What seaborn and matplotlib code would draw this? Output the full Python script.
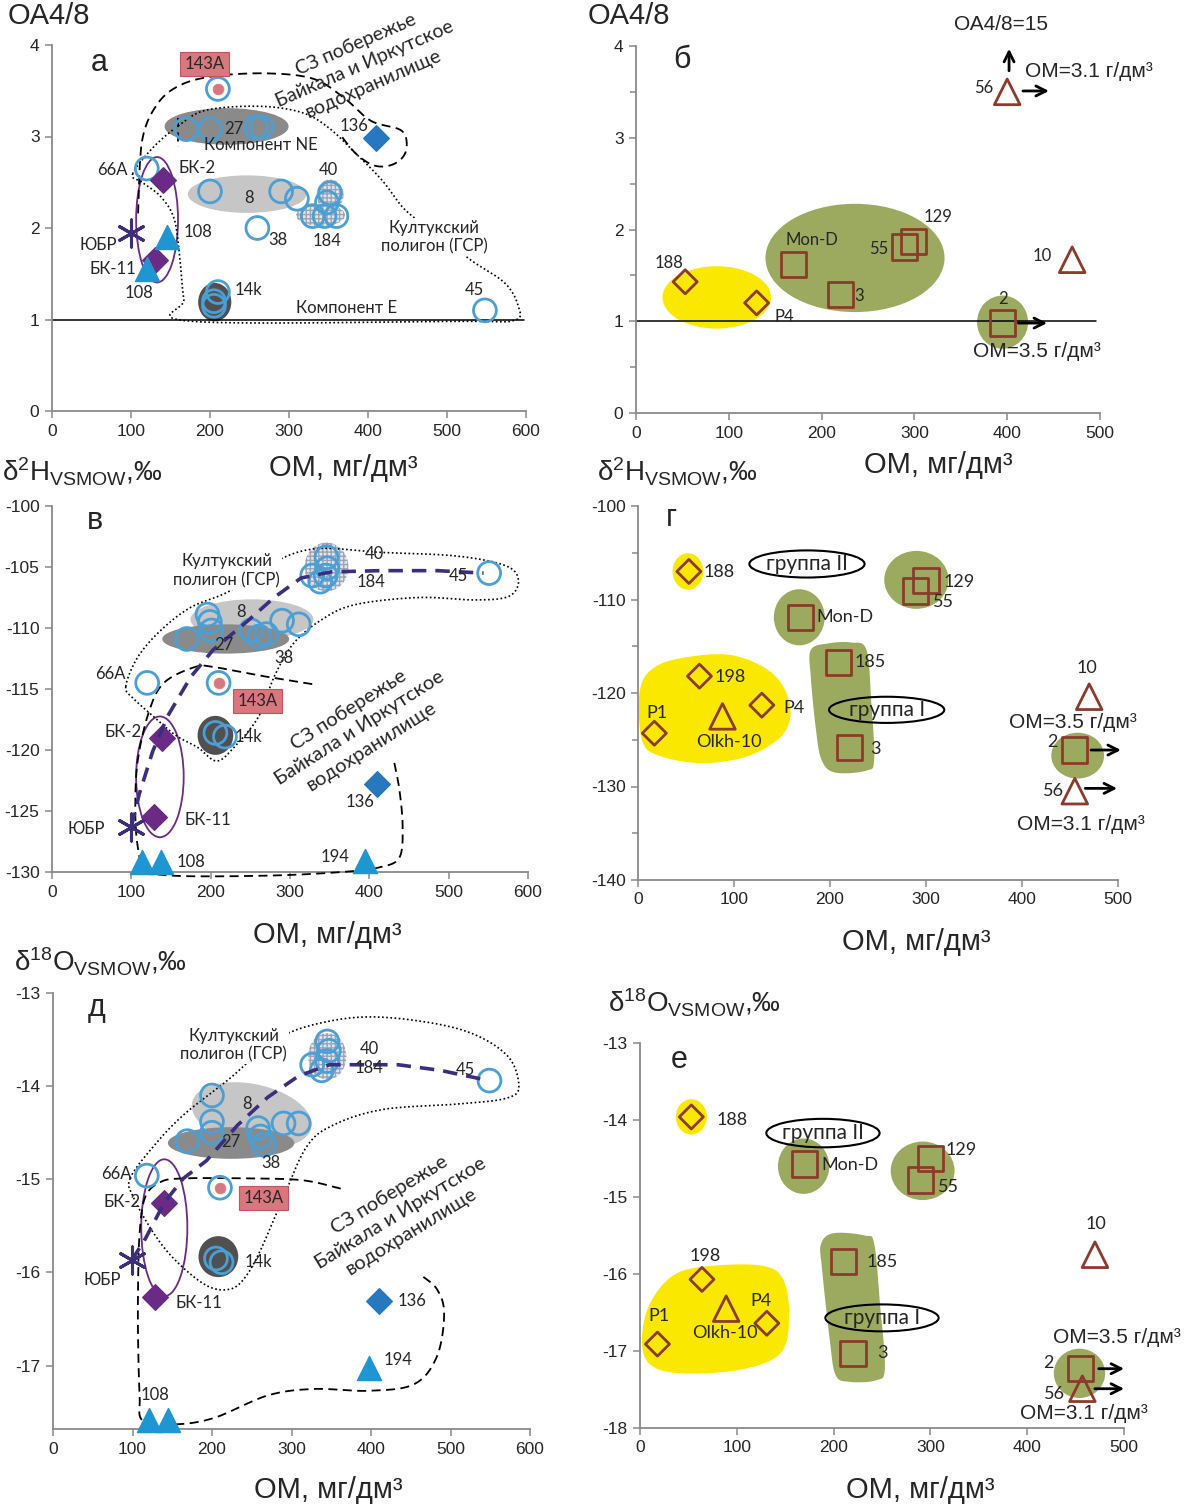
import numpy as np
import matplotlib
import matplotlib.pyplot as plt
import seaborn as sns
from matplotlib.patches import Ellipse, Polygon

sns.set_style('white')
plt.rcParams['font.family'] = ['Liberation Sans', 'DejaVu Sans']
plt.rcParams['mathtext.fontset'] = 'custom'
plt.rcParams['mathtext.rm'] = 'Liberation Sans'
plt.rcParams['mathtext.it'] = 'Liberation Sans:italic'
plt.rcParams['axes.unicode_minus'] = False

# ---------------- data ----------------
# panel а: OA4/8 vs OM
a_circ_x = [210, 170, 200, 258, 265, 120, 200, 290, 310, 352, 348, 330, 345, 360, 260, 205, 210, 205, 548]
a_circ_y = [3.52, 3.08, 3.08, 3.1, 3.1, 2.65, 2.4, 2.4, 2.32, 2.38, 2.28, 2.13, 2.13, 2.13, 2.0, 1.2, 1.3, 1.15, 1.1]
a_bk_x, a_bk_y = [140, 130], [2.52, 1.65]
a_ubr_x, a_ubr_y = [100], [1.95]
a_tri_x, a_tri_y = [145, 120], [1.9, 1.55]
a_136_x, a_136_y = [410], [2.98]
a_143_x, a_143_y = [210], [3.52]

# panel б
b_dia_x, b_dia_y = [53, 130], [1.43, 1.2]
b_sq_x = [170, 220, 289, 299, 395]
b_sq_y = [1.62, 1.29, 1.81, 1.87, 0.98]
b_tri_x, b_tri_y = [400, 470], [3.5, 1.67]

# panel в: d2H vs OM
v_circ_x = [346, 347, 328, 338, 345, 551, 196, 199, 201, 290, 311, 170, 251, 261, 270, 120, 210, 206, 218]
v_circ_y = [-104.2, -105.1, -105.7, -106.2, -105.7, -105.5, -108.9, -109.5, -110.2, -109.4, -109.7,
            -110.9, -110.2, -110.7, -110.5, -114.5, -114.5, -118.6, -118.9]
v_bk_x, v_bk_y = [139, 129], [-119.0, -125.5]
v_ubr_x, v_ubr_y = [99], [-126.3]
v_tri_x, v_tri_y = [113, 137, 395], [-129.2, -129.2, -129.1]
v_136_x, v_136_y = [410], [-122.8]
v_143_x, v_143_y = [210], [-114.5]
v_trend_x = [100, 110, 127, 146, 175, 203, 247, 280, 314, 352, 414, 486, 544]
v_trend_y = [-126.3, -123.6, -120.1, -117.2, -114.0, -111.8, -109.4, -107.5, -105.9, -105.4, -105.3, -105.3, -105.5]

# panel г
g_dia_x, g_dia_y = [53, 64, 129, 17], [-107.0, -118.2, -121.3, -124.3]
g_olkh_x, g_olkh_y = [88], [-122.5]
g_sq_x = [300, 289, 169, 209, 220, 455]
g_sq_y = [-108.0, -109.1, -111.9, -116.7, -125.8, -126.1]
g_tri_x, g_tri_y = [470, 455], [-120.4, -130.5]

# panel д: d18O vs OM
d_circ_x = [345, 347, 345, 326, 338, 549, 200, 200, 200, 290, 309, 169, 258, 261, 265, 118, 210, 205, 212]
d_circ_y = [-13.52, -13.62, -13.73, -13.77, -13.83, -13.94, -14.1, -14.38, -14.5, -14.4, -14.4,
            -14.59, -14.45, -14.54, -14.63, -14.96, -15.09, -15.85, -15.89]
d_bk_x, d_bk_y = [140, 128], [-15.25, -16.26]
d_ubr_x, d_ubr_y = [99], [-15.87]
d_tri_x, d_tri_y = [121, 145, 398], [-17.58, -17.58, -17.02]
d_136_x, d_136_y = [410], [-16.31]
d_143_x, d_143_y = [210], [-15.09]
d_trend_x = [99, 116, 140, 164, 193, 232, 270, 309, 348, 376, 434, 487, 548]
d_trend_y = [-15.87, -15.64, -15.25, -14.99, -14.8, -14.42, -14.12, -13.89, -13.77, -13.77, -13.77, -13.83, -13.94]

# panel е
e_dia_x, e_dia_y = [53, 64, 131, 18], [-13.96, -16.07, -16.64, -16.91]
e_olkh_x, e_olkh_y = [89], [-16.45]
e_sq_x = [300, 290, 170, 210, 220, 455]
e_sq_y = [-14.5, -14.78, -14.57, -15.84, -17.03, -17.23]
e_tri_x, e_tri_y = [470, 457], [-15.75, -17.49]

# ---------------- style ----------------
BLUE = '#4b9fd5'
PURPLE = '#6a2a85'
STAR = '#3d2e7c'
TRI = '#1f95d2'
DIA = '#2878bf'
BROWN = '#8c3a2b'
YELLOW = '#fbe800'
GREEN = '#9caa5f'
LGRAY = '#c6c6c6'
DGRAY = '#8a8a8a'
VDGRAY = '#505050'
PINK = '#d9777e'
TREND = '#3b2f7d'
NUMF = ['Lato', 'DejaVu Sans']

S_CIRC, S_DIA, S_TRI, S_STAR = 270, 170, 300, 380
S_ODIA, S_SQ, S_OTRI = 150, 330, 340

W, H = 1184, 1506
fig = plt.figure(figsize=(W / 100, H / 100), dpi=100)


def add_ax(l, t, r, b, xlim, ylim, xticks, yticks, minor=None):
    ax = fig.add_axes([l / W, 1 - b / H, (r - l) / W, (b - t) / H])
    ax.set_xlim(*xlim)
    ax.set_ylim(*ylim)
    ax.set_xticks(xticks)
    ax.set_yticks(yticks)
    if minor is not None:
        ax.set_yticks(minor, minor=True)
    for s in ['top', 'right']:
        ax.spines[s].set_visible(False)
    for s in ['left', 'bottom']:
        ax.spines[s].set_color('#8a8a8a')
        ax.spines[s].set_linewidth(1.3)
    ax.tick_params(axis='both', which='both', direction='out', length=5, width=1.1,
                   color='#8a8a8a', labelsize=12.5, pad=4, left=True, bottom=True)
    ax.tick_params(axis='y', which='minor', length=4)
    ax.set_facecolor('none')
    return ax


def pts(ax, xs, ys, marker, s, fc, ec, lw=1.6, z=5):
    sns.scatterplot(x=xs, y=ys, ax=ax, marker=marker, s=s, facecolor=fc, edgecolor=ec,
                    linewidth=lw, zorder=z, clip_on=False, legend=False)


def smooth(p, closed=True, n=14):
    p = np.asarray(p, float)
    if closed:
        p = np.vstack([p[-1], p, p[0], p[1]])
    else:
        p = np.vstack([p[0], p, p[-1]])
    out = []
    for i in range(1, len(p) - 2):
        p0, p1, p2, p3 = p[i - 1], p[i], p[i + 1], p[i + 2]
        t = np.linspace(0, 1, n, endpoint=False)[:, None]
        out.append(0.5 * ((2 * p1) + (-p0 + p2) * t + (2 * p0 - 5 * p1 + 4 * p2 - p3) * t ** 2
                          + (-p0 + 3 * p1 - 3 * p2 + p3) * t ** 3))
    out = np.vstack(out + [p[-2][None, :]])
    return out[:, 0], out[:, 1]


def outline(ax, p, closed, ls, color='black', lw=1.3, z=3):
    xs, ys = smooth(p, closed)
    ax.plot(xs, ys, ls=ls, color=color, lw=lw, zorder=z, clip_on=False)


def blob(ax, p, color, z=1):
    xs, ys = smooth(p, True)
    ax.fill(xs, ys, color=color, lw=0, zorder=z)


def ell(ax, cx, cy, w, h, fc='none', ec='none', lw=1.3, z=1, hatch=None):
    ax.add_patch(Ellipse((cx, cy), w, h, facecolor=fc, edgecolor=ec, lw=lw, zorder=z, hatch=hatch))


def rell(ax, cx, cy, wpx, hpx, ang, fc, z=1):
    t = np.linspace(0, 2 * np.pi, 80)
    a = np.deg2rad(ang)
    px = wpx / 2 * np.cos(t)
    py = hpx / 2 * np.sin(t)
    rx = px * np.cos(a) - py * np.sin(a)
    ry = px * np.sin(a) + py * np.cos(a)
    c = ax.transData.transform((cx, cy))
    d = ax.transData.inverted().transform(np.column_stack([c[0] + rx, c[1] + ry]))
    ax.add_patch(Polygon(d, closed=True, facecolor=fc, edgecolor='none', zorder=z))


def lab(ax, x, y, s, size=12, **kw):
    kw.setdefault('ha', 'center')
    kw.setdefault('va', 'center')
    ax.text(x, y, s, fontsize=size, family=NUMF, zorder=7, **kw)


def letter(ax, x, y, s):
    ax.text(x, y, s, fontsize=22, ha='center', va='center', zorder=7)


def pinkbox(ax, x, y):
    ax.text(x, y, '143А', fontsize=12, family=NUMF, ha='center', va='center', zorder=7,
            bbox=dict(boxstyle='square,pad=0.25', fc=PINK, ec='#c05560', lw=0.8))


def sz_text(ax, x, y, rot, size=14.5):
    ax.text(x, y, 'СЗ побережье\nБайкала и Иркутское\nводохранилище', fontsize=size, family=NUMF,
            ha='center', va='center', rotation=rot, rotation_mode='anchor', linespacing=1.3, zorder=7)


def kult(ax, x, y):
    ax.text(x, y, 'Култукский\nполигон (ГСР)', fontsize=12, family=NUMF, ha='center', va='center',
            zorder=6, linespacing=1.2, bbox=dict(boxstyle='square,pad=0.1', fc='white', ec='none'))


def arrow(ax, x0, y0, x1, y1):
    ax.annotate('', xy=(x1, y1), xytext=(x0, y0), zorder=8, annotation_clip=False,
                arrowprops=dict(arrowstyle='->', color='black', lw=2, mutation_scale=18))


def ftext(x, y, s, size=20, ha='center'):
    fig.text(x / W, 1 - y / H, s, fontsize=size, ha=ha, va='center')


OM = 'ОМ, мг/дм³'
D2H = 'δ$^{2}$H$_{\\mathrm{VSMOW}}$,‰'
D18O = 'δ$^{18}$O$_{\\mathrm{VSMOW}}$,‰'

# ================= panel а =================
ax = add_ax(52, 45, 526, 411, (0, 600), (0, 4), range(0, 601, 100), range(0, 5))
ell(ax, 221, 3.11, 157, 0.40, fc=DGRAY)
ell(ax, 247, 2.37, 150, 0.41, fc=LGRAY)
ell(ax, 206, 1.19, 42, 0.42, fc=VDGRAY)
ell(ax, 352, 2.36, 34, 0.34, fc='#e2e6ec', ec='#9aa4b4', lw=0, hatch='++++')
ell(ax, 340, 2.14, 62, 0.24, fc='#e2e6ec', ec='#9aa4b4', lw=0, hatch='++++')
ell(ax, 133, 2.09, 53, 1.37, ec=PURPLE, lw=1.3, z=3)
outline(ax, [(109, 2.16), (114, 2.95), (133, 3.35), (162, 3.56), (206, 3.66), (273, 3.69), (331, 3.63),
             (370, 3.42), (404, 3.17), (443, 3.06), (448, 2.84), (433, 2.70), (409, 2.68), (385, 2.81),
             (365, 3.02)], False, (0, (5, 3)))
outline(ax, [(160, 3.2), (160, 2.88)], False, (0, (5, 3)))
outline(ax, [(102, 2.59), (128, 2.88), (162, 3.13), (196, 3.29), (264, 3.33), (317, 3.26), (351, 3.09),
             (385, 2.81), (418, 2.52), (448, 2.19), (490, 1.92), (530, 1.65), (573, 1.40), (590, 1.15),
             (585, 0.99), (515, 0.98), (177, 0.98), (167, 1.22), (162, 1.65), (155, 2.09), (138, 2.34),
             (114, 2.5)], True, (0, (1, 1.5)), lw=1.2)
ax.plot([0, 597], [1, 1], color='black', lw=1.1, zorder=2, clip_on=False)
pts(ax, a_circ_x, a_circ_y, 'o', S_CIRC, 'none', BLUE, lw=2)
pts(ax, a_143_x, a_143_y, 'o', 60, PINK, PINK, lw=0.5, z=6)
pts(ax, a_bk_x, a_bk_y, 'D', S_DIA, PURPLE, PURPLE, lw=1)
pts(ax, a_ubr_x, a_ubr_y, (6, 2, 0), S_STAR, STAR, STAR, lw=2.2)
pts(ax, a_tri_x, a_tri_y, '^', S_TRI, TRI, TRI, lw=1)
pts(ax, a_136_x, a_136_y, 'D', S_DIA, DIA, DIA, lw=1)
letter(ax, 60, 3.8, 'а')
pinkbox(ax, 193, 3.79)
sz_text(ax, 396, 3.79, 23.5, size=14)
lab(ax, 230, 3.08, '27')
lab(ax, 264, 2.91, 'Компонент NE')
lab(ax, 382, 3.11, '136')
lab(ax, 77, 2.63, '66А')
lab(ax, 183, 2.66, 'БК-2')
lab(ax, 350, 2.63, '40')
lab(ax, 250, 2.33, '8')
lab(ax, 185, 1.96, '108')
lab(ax, 58, 1.81, 'ЮБР')
lab(ax, 286, 1.87, '38')
lab(ax, 348, 1.86, '184')
kult(ax, 484, 1.9)
lab(ax, 77, 1.55, 'БК-11')
lab(ax, 110, 1.29, '108')
lab(ax, 248, 1.32, '14k')
lab(ax, 535, 1.32, '45')
lab(ax, 373, 1.13, 'Компонент E')

# ================= panel б =================
ax = add_ax(636, 46, 1100, 413, (0, 500), (0, 4), range(0, 501, 100), range(0, 5),
            minor=np.arange(0.5, 4, 1.0))
ell(ax, 87, 1.26, 117, 0.68, fc=YELLOW)
ell(ax, 236, 1.69, 193, 1.18, fc=GREEN)
ell(ax, 395, 0.99, 55, 0.58, fc=GREEN)
ax.plot([0, 496], [1, 1], color='black', lw=1.1, zorder=2, clip_on=False)
pts(ax, b_dia_x, b_dia_y, 'D', S_ODIA, 'none', BROWN, lw=2)
pts(ax, b_sq_x, b_sq_y, 's', S_SQ, 'none', BROWN, lw=2)
pts(ax, b_tri_x, b_tri_y, '^', S_OTRI, 'none', BROWN, lw=2)
arrow(ax, 402, 3.7, 402, 4.0)
arrow(ax, 414, 3.51, 448, 3.51)
arrow(ax, 409, 0.98, 446, 0.98)
letter(ax, 49, 3.85, 'б')
ax.text(393, 4.23, 'ОА4/8=15', fontsize=15, ha='center', va='center')
ax.text(488, 3.72, 'ОМ=3.1 г/дм³', fontsize=15, ha='center', va='center')
ax.text(432, 0.67, 'ОМ=3.5 г/дм³', fontsize=15, ha='center', va='center')
lab(ax, 36, 1.63, '188')
lab(ax, 160, 1.05, 'P4')
lab(ax, 189, 1.89, 'Mon-D')
lab(ax, 240, 1.27, '3')
lab(ax, 262, 1.79, '55')
lab(ax, 325, 2.14, '129')
lab(ax, 395, 1.24, '2')
lab(ax, 375, 3.54, '56')
lab(ax, 438, 1.71, '10')

# ================= panel в =================
ax = add_ax(52, 506, 528, 872, (0, 600), (-130, -100), range(0, 601, 100), range(-130, -99, 5))
ell(ax, 252, -109.3, 155, 3.3, fc=LGRAY)
ell(ax, 219, -110.9, 160, 2.4, fc=DGRAY)
ell(ax, 206, -118.8, 45, 3.2, fc=VDGRAY)
ell(ax, 346, -105.0, 55, 4.0, fc='#e2e6ec', ec='#9aa4b4', lw=0, hatch='++++')
ell(ax, 136, -122.2, 60, 9.9, ec=PURPLE, lw=1.3, z=3)
outline(ax, [(328, -114.6), (271, -114.0), (204, -113.2), (180, -113.2), (141, -114.5), (122, -116.9),
             (108, -120.9), (105, -124.9), (108, -127.9), (117, -129.7), (151, -130.3), (271, -130.3),
             (366, -130.0), (414, -129.6), (438, -128.8), (442, -126.3), (438, -123.3), (431, -120.9)],
        False, (0, (5, 3)))
outline(ax, [(93, -114.8), (108, -112.4), (137, -110.2), (175, -108.3), (223, -107.0), (280, -104.6),
             (333, -103.5), (414, -103.8), (510, -104.1), (572, -104.9), (588, -106.1), (576, -107.4),
             (534, -107.7), (462, -107.5), (381, -108.1), (338, -109.4), (304, -111.3), (280, -114.0),
             (261, -117.2), (232, -119.6), (208, -120.9), (184, -119.8), (156, -118.8), (127, -117.2),
             (103, -115.8)], True, (0, (1, 1.5)), lw=1.2)
ax.plot(v_trend_x, v_trend_y, color=TREND, lw=2.6, ls=(0, (4, 2.5)), zorder=6)
pts(ax, v_circ_x, v_circ_y, 'o', S_CIRC, 'none', BLUE, lw=2)
pts(ax, v_143_x, v_143_y, 'o', 60, PINK, PINK, lw=0.5, z=6)
pts(ax, v_bk_x, v_bk_y, 'D', S_DIA, PURPLE, PURPLE, lw=1)
pts(ax, v_ubr_x, v_ubr_y, (6, 2, 0), S_STAR, STAR, STAR, lw=2.2)
pts(ax, v_tri_x, v_tri_y, '^', S_TRI, TRI, TRI, lw=1)
pts(ax, v_136_x, v_136_y, 'D', S_DIA, DIA, DIA, lw=1)
letter(ax, 54, -101.2, 'в')
kult(ax, 220, -105.3)
sz_text(ax, 388, -118.2, 32.5)
pinkbox(ax, 259, -116.0)
lab(ax, 407, -103.9, '40')
lab(ax, 402, -106.2, '184')
lab(ax, 512, -105.7, '45')
lab(ax, 238, -108.7, '8')
lab(ax, 216, -111.4, '27')
lab(ax, 292, -112.5, '38')
lab(ax, 74, -113.8, '66А')
lab(ax, 90, -118.5, 'БК-2')
lab(ax, 247, -118.9, '14k')
lab(ax, 43, -126.5, 'ЮБР')
lab(ax, 196, -125.7, 'БК-11')
lab(ax, 388, -124.3, '136')
lab(ax, 175, -129.2, '108')
lab(ax, 357, -128.8, '194')

# ================= panel г =================
ax = add_ax(638, 506, 1118, 880, (0, 500), (-140, -100), range(0, 501, 100), range(-140, -99, 10),
            minor=np.arange(-135, -100, 10))
ell(ax, 52, -107.0, 32, 3.9, fc=YELLOW)
blob(ax, [(2, -119.7), (18, -117.2), (55, -116.1), (100, -116.0), (140, -117.9), (158, -121.1),
          (152, -124.3), (116, -126.7), (67, -127.5), (22, -126.7), (4, -125.0)], YELLOW)
ell(ax, 290, -107.9, 67, 6.2, fc=GREEN)
ell(ax, 168, -111.9, 53, 6.0, fc=GREEN)
blob(ax, [(180, -115.4), (198, -114.7), (222, -114.6), (238, -115.4), (243, -121), (246, -127.1),
          (238, -128.3), (205, -128.5), (191, -127.1), (185, -123.6), (180, -118.3)], GREEN)
ell(ax, 458, -126.7, 55, 4.9, fc=GREEN)
ell(ax, 176, -106.2, 120, 2.9, ec='black', lw=1.5, z=4)
ell(ax, 259, -121.8, 120, 2.8, ec='black', lw=1.5, z=4)
pts(ax, g_dia_x, g_dia_y, 'D', S_ODIA, 'none', BROWN, lw=2)
pts(ax, g_olkh_x, g_olkh_y, '^', S_OTRI, 'none', BROWN, lw=2)
pts(ax, g_sq_x, g_sq_y, 's', S_SQ, 'none', BROWN, lw=2)
pts(ax, g_tri_x, g_tri_y, '^', S_OTRI, 'none', BROWN, lw=2)
arrow(ax, 469, -126.1, 506, -126.1)
arrow(ax, 463, -130.2, 502, -130.2)
letter(ax, 35, -101.3, 'г')
lab(ax, 176, -106.2, 'группа II', 15)
lab(ax, 259, -121.8, 'группа I', 15)
ax.text(453, -123.2, 'ОМ=3.5 г/дм³', fontsize=15, ha='center', va='center', zorder=7)
ax.text(461, -134.1, 'ОМ=3.1 г/дм³', fontsize=15, ha='center', va='center', zorder=7)
lab(ax, 84, -107.1, '188', 13)
lab(ax, 335, -108.1, '129', 13)
lab(ax, 318, -110.3, '55', 13)
lab(ax, 216, -111.9, 'Mon-D', 13)
lab(ax, 242, -116.7, '185', 13)
lab(ax, 96, -118.3, '198', 13)
lab(ax, 20, -122.1, 'P1', 13)
lab(ax, 162, -121.6, 'P4', 13)
lab(ax, 95, -125.2, 'Olkh-10', 13)
lab(ax, 247, -126.0, '3', 13)
lab(ax, 468, -117.3, '10', 13)
lab(ax, 432, -125.2, '2', 13)
lab(ax, 433, -130.5, '56', 13)

# ================= panel д =================
ax = add_ax(53, 993, 530, 1429, (0, 600), (-17.68, -13), range(0, 601, 100), range(-17, -12))
rell(ax, 250, -14.31, 122, 62, -12, LGRAY)
ell(ax, 224, -14.61, 159, 0.34, fc=DGRAY)
ell(ax, 208, -15.83, 50, 0.44, fc=VDGRAY)
ell(ax, 345, -13.68, 48, 0.5, fc='#e2e6ec', ec='#9aa4b4', lw=0, hatch='++++')
ell(ax, 140, -15.52, 58, 1.47, ec=PURPLE, lw=1.3, z=3)
outline(ax, [(362, -15.1), (314, -15.01), (246, -14.99), (164, -14.99), (135, -15.03), (116, -15.19),
             (109, -15.57), (107, -16.14), (107, -16.71), (109, -17.32), (113, -17.59), (154, -17.63),
             (203, -17.56), (270, -17.32), (328, -17.25), (396, -17.27), (454, -17.2), (483, -16.9),
             (492, -16.44), (483, -16.18), (463, -16.03)], False, (0, (5, 3)))
outline(ax, [(97, -14.99), (126, -14.65), (164, -14.31), (222, -13.92), (280, -13.5), (343, -13.31),
             (415, -13.26), (512, -13.39), (570, -13.66), (586, -14.0), (570, -14.13), (512, -14.19),
             (415, -14.25), (352, -14.42), (319, -14.65), (290, -15.19), (261, -15.76), (241, -16.06),
             (222, -16.18), (193, -16.14), (154, -15.87), (126, -15.57), (101, -15.19)], True,
        (0, (1, 1.5)), lw=1.2)
ax.plot(d_trend_x, d_trend_y, color=TREND, lw=2.6, ls=(0, (4, 2.5)), zorder=6)
pts(ax, d_circ_x, d_circ_y, 'o', S_CIRC, 'none', BLUE, lw=2)
pts(ax, d_143_x, d_143_y, 'o', 60, PINK, PINK, lw=0.5, z=6)
pts(ax, d_bk_x, d_bk_y, 'D', S_DIA, PURPLE, PURPLE, lw=1)
pts(ax, d_ubr_x, d_ubr_y, (6, 2, 0), S_STAR, STAR, STAR, lw=2.2)
pts(ax, d_tri_x, d_tri_y, '^', S_TRI, TRI, TRI, lw=1)
pts(ax, d_136_x, d_136_y, 'D', S_DIA, DIA, DIA, lw=1)
letter(ax, 55, -13.16, 'д')
kult(ax, 227, -13.56)
sz_text(ax, 437, -15.36, 31.5)
pinkbox(ax, 265, -15.2)
lab(ax, 398, -13.6, '40')
lab(ax, 398, -13.8, '184')
lab(ax, 519, -13.83, '45')
lab(ax, 244, -14.19, '8')
lab(ax, 224, -14.6, '27')
lab(ax, 274, -14.82, '38')
lab(ax, 80, -14.94, '66А')
lab(ax, 87, -15.24, 'БК-2')
lab(ax, 258, -15.89, '14k')
lab(ax, 62, -16.08, 'ЮБР')
lab(ax, 183, -16.33, 'БК-11')
lab(ax, 451, -16.31, '136')
lab(ax, 434, -16.94, '194')
lab(ax, 128, -17.31, '108')

# ================= panel е =================
ax = add_ax(640, 1043, 1124, 1428, (0, 500), (-18, -13), range(0, 501, 100), range(-18, -12))
ell(ax, 53, -13.96, 32, 0.46, fc=YELLOW)
blob(ax, [(2, -16.85), (10, -16.39), (34, -16.02), (69, -15.9), (125, -15.89), (148, -16.07),
          (154, -16.58), (145, -17.03), (105, -17.24), (42, -17.29), (10, -17.17)], YELLOW)
ell(ax, 292, -14.66, 66, 0.76, fc=GREEN)
ell(ax, 169, -14.6, 53, 0.72, fc=GREEN)
blob(ax, [(187, -15.61), (200, -15.47), (232, -15.5), (242, -15.61), (248, -16.4), (253, -17.22),
          (244, -17.38), (216, -17.4), (202, -17.31), (196, -16.85), (188, -15.93)], GREEN)
ell(ax, 454, -17.29, 53, 0.64, fc=GREEN)
ell(ax, 189, -14.17, 117, 0.37, ec='black', lw=1.5, z=4)
ell(ax, 250, -16.57, 117, 0.35, ec='black', lw=1.5, z=4)
pts(ax, e_dia_x, e_dia_y, 'D', S_ODIA, 'none', BROWN, lw=2)
pts(ax, e_olkh_x, e_olkh_y, '^', S_OTRI, 'none', BROWN, lw=2)
pts(ax, e_sq_x, e_sq_y, 's', S_SQ, 'none', BROWN, lw=2)
pts(ax, e_tri_x, e_tri_y, '^', S_OTRI, 'none', BROWN, lw=2)
arrow(ax, 471, -17.23, 503, -17.23)
arrow(ax, 467, -17.49, 503, -17.49)
letter(ax, 40, -13.22, 'е')
lab(ax, 189, -14.17, 'группа II', 15)
lab(ax, 250, -16.57, 'группа I', 15)
ax.text(493, -16.83, 'ОМ=3.5 г/дм³', fontsize=15, ha='center', va='center', zorder=7)
ax.text(459, -17.81, 'ОМ=3.1 г/дм³', fontsize=15, ha='center', va='center', zorder=7)
lab(ax, 95, -14.0, '188', 13)
lab(ax, 332, -14.39, '129', 13)
lab(ax, 319, -14.87, '55', 13)
lab(ax, 217, -14.59, 'Mon-D', 13)
lab(ax, 250, -15.85, '185', 13)
lab(ax, 67, -15.77, '198', 13)
lab(ax, 125, -16.35, 'P4', 13)
lab(ax, 20, -16.55, 'P1', 13)
lab(ax, 88, -16.77, 'Olkh-10', 13)
lab(ax, 250, -17.03, '3', 13)
lab(ax, 422, -17.15, '2', 13)
lab(ax, 428, -17.56, '56', 13)
lab(ax, 471, -15.35, '10', 13)

# ---------------- axis titles ----------------
ftext(8, 16, 'OA4/8', size=21, ha='left')
ftext(588, 16, 'OA4/8', size=21, ha='left')
ftext(2, 472, D2H, ha='left')
ftext(597, 472, D2H, ha='left')
ftext(14, 962, D18O, ha='left')
ftext(608, 1003, D18O, ha='left')
ftext(343, 468, OM, size=21)
ftext(938, 465, OM, size=21)
ftext(327, 935, OM, size=21)
ftext(916, 942, OM, size=21)
ftext(328, 1490, OM, size=21)
ftext(920, 1490, OM, size=21)

fig.savefig('out.png', dpi=100)
